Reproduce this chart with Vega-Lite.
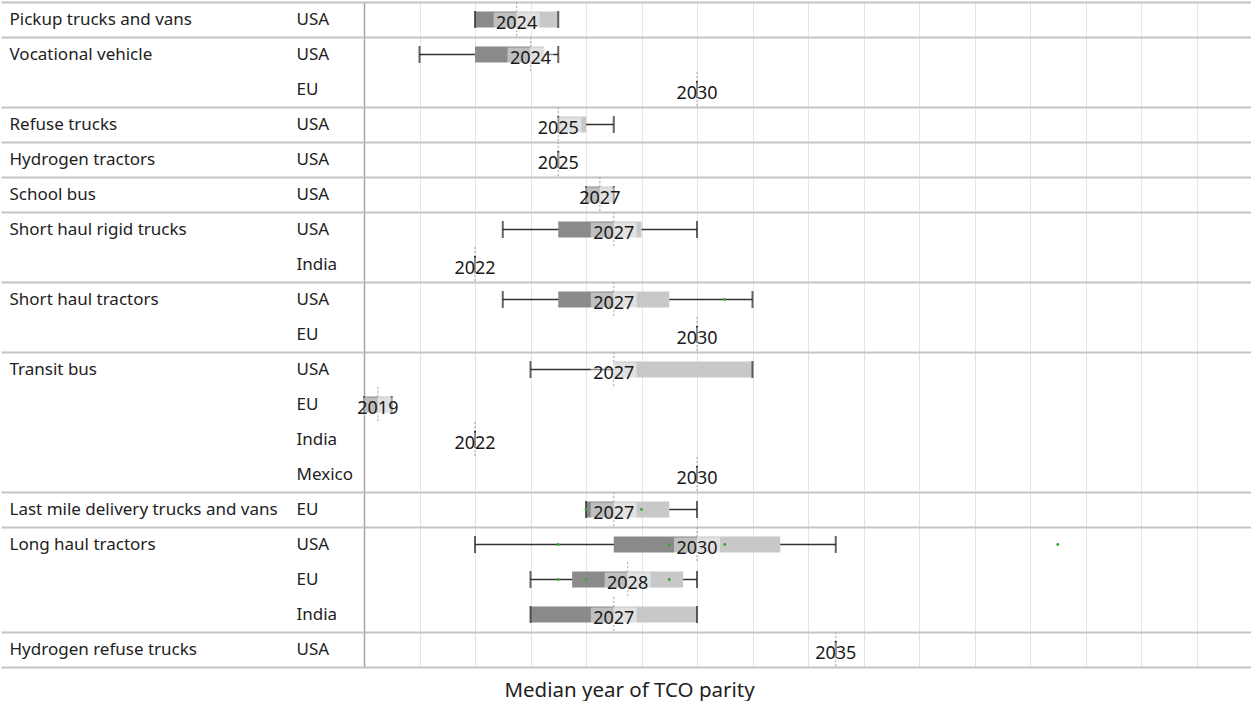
{
  "$schema": "https://vega.github.io/schema/vega-lite/v6.json",
  "width": 888,
  "height": 665,
  "padding": {"left": 0, "top": 1, "right": 0, "bottom": 0},
  "config": {
    "font": "Noto Sans",
    "view": {"stroke": null},
    "axisX": {"tickCount": 16, "labels": false, "ticks": false, "domain": false, "grid": true, "gridColor": "#e4e4e4", "gridWidth": 1,
      "titleFontSize": 20.5, "titleFontWeight": "normal", "titleColor": "#222222", "titleX": 265, "titleY": 29, "titleBaseline": "alphabetic", "titleAlign": "center"}
  },
  "datasets": {
    "rows": [
      {"key": "Pickup trucks and vans|USA", "min": 2022, "q1": 2022, "median": 2023.5, "q3": 2025, "max": 2025, "label": "2024"},
      {"key": "Vocational vehicle|USA", "min": 2020, "q1": 2022, "median": 2024, "q3": 2024.5, "max": 2025, "label": "2024"},
      {"key": "Vocational vehicle|EU", "min": 2030, "q1": 2030, "median": 2030, "q3": 2030, "max": 2030, "label": "2030"},
      {"key": "Refuse trucks|USA", "min": 2025, "q1": 2025, "median": 2025, "q3": 2026, "max": 2027, "label": "2025"},
      {"key": "Hydrogen tractors|USA", "min": 2025, "q1": 2025, "median": 2025, "q3": 2025, "max": 2025, "label": "2025"},
      {"key": "School bus|USA", "min": 2026, "q1": 2026, "median": 2026.5, "q3": 2027, "max": 2027, "label": "2027"},
      {"key": "Short haul rigid trucks|USA", "min": 2023, "q1": 2025, "median": 2027, "q3": 2028, "max": 2030, "label": "2027"},
      {"key": "Short haul rigid trucks|India", "min": 2022, "q1": 2022, "median": 2022, "q3": 2022, "max": 2022, "label": "2022"},
      {"key": "Short haul tractors|USA", "min": 2023, "q1": 2025, "median": 2027, "q3": 2029, "max": 2032, "label": "2027"},
      {"key": "Short haul tractors|EU", "min": 2030, "q1": 2030, "median": 2030, "q3": 2030, "max": 2030, "label": "2030"},
      {"key": "Transit bus|USA", "min": 2024, "q1": 2027, "median": 2027, "q3": 2032, "max": 2032, "label": "2027"},
      {"key": "Transit bus|EU", "min": 2018, "q1": 2018, "median": 2018.5, "q3": 2019, "max": 2019, "label": "2019"},
      {"key": "Transit bus|India", "min": 2022, "q1": 2022, "median": 2022, "q3": 2022, "max": 2022, "label": "2022"},
      {"key": "Transit bus|Mexico", "min": 2030, "q1": 2030, "median": 2030, "q3": 2030, "max": 2030, "label": "2030"},
      {"key": "Last mile delivery trucks and vans|EU", "min": 2026, "q1": 2026, "median": 2027, "q3": 2029, "max": 2030, "label": "2027"},
      {"key": "Long haul tractors|USA", "min": 2022, "q1": 2027, "median": 2030, "q3": 2033, "max": 2035, "label": "2030"},
      {"key": "Long haul tractors|EU", "min": 2024, "q1": 2025.5, "median": 2027.5, "q3": 2029.5, "max": 2030, "label": "2028"},
      {"key": "Long haul tractors|India", "min": 2024, "q1": 2024, "median": 2027, "q3": 2030, "max": 2030, "label": "2027"},
      {"key": "Hydrogen refuse trucks|USA", "min": 2035, "q1": 2035, "median": 2035, "q3": 2035, "max": 2035, "label": "2035"}
    ],
    "dots": [
      {"key": "Short haul tractors|USA", "year": 2031},
      {"key": "Last mile delivery trucks and vans|EU", "year": 2026},
      {"key": "Last mile delivery trucks and vans|EU", "year": 2028},
      {"key": "Long haul tractors|USA", "year": 2025},
      {"key": "Long haul tractors|USA", "year": 2029},
      {"key": "Long haul tractors|USA", "year": 2031},
      {"key": "Long haul tractors|USA", "year": 2043},
      {"key": "Long haul tractors|EU", "year": 2025},
      {"key": "Long haul tractors|EU", "year": 2026},
      {"key": "Long haul tractors|EU", "year": 2029}
    ]
  },
  "data": {"name": "rows"},
  "resolve": {"axis": {"y": "independent"}},
  "encoding": {
    "y": {
      "field": "key", "type": "nominal",
      "scale": {"type": "band", "paddingInner": 0, "paddingOuter": 0, "domain": ["Pickup trucks and vans|USA", "Vocational vehicle|USA", "Vocational vehicle|EU", "Refuse trucks|USA", "Hydrogen tractors|USA", "School bus|USA", "Short haul rigid trucks|USA", "Short haul rigid trucks|India", "Short haul tractors|USA", "Short haul tractors|EU", "Transit bus|USA", "Transit bus|EU", "Transit bus|India", "Transit bus|Mexico", "Last mile delivery trucks and vans|EU", "Long haul tractors|USA", "Long haul tractors|EU", "Long haul tractors|India", "Hydrogen refuse trucks|USA"]},
      "axis": null
    }
  },
  "layer": [
    {
      "mark": {"type": "tick", "orient": "vertical", "size": 35, "thickness": 0.1, "filled": false, "color": "#a9a9a9", "strokeDash": [2, 2], "strokeWidth": 1},
      "encoding": {
        "x": {"field": "median", "type": "quantitative", "scale": {"domain": [2018, 2050], "nice": false, "zero": false}, "title": "Median year of TCO parity"},
        "y": {
          "field": "key", "type": "nominal",
          "scale": {"type": "band", "paddingInner": 0, "paddingOuter": 0, "domain": ["Pickup trucks and vans|USA", "Vocational vehicle|USA", "Vocational vehicle|EU", "Refuse trucks|USA", "Hydrogen tractors|USA", "School bus|USA", "Short haul rigid trucks|USA", "Short haul rigid trucks|India", "Short haul tractors|USA", "Short haul tractors|EU", "Transit bus|USA", "Transit bus|EU", "Transit bus|India", "Transit bus|Mexico", "Last mile delivery trucks and vans|EU", "Long haul tractors|USA", "Long haul tractors|EU", "Long haul tractors|India", "Hydrogen refuse trucks|USA"]},
          "axis": {
            "orient": "left",
            "values": ["Pickup trucks and vans|USA", "Vocational vehicle|USA", "Refuse trucks|USA", "Hydrogen tractors|USA", "School bus|USA", "Short haul rigid trucks|USA", "Short haul tractors|USA", "Transit bus|USA", "Last mile delivery trucks and vans|EU", "Long haul tractors|USA", "Hydrogen refuse trucks|USA"],
            "labelExpr": "split(datum.value, '|')[0]",
            "labelAlign": "left", "labelBaseline": "middle", "labelPadding": 355, "labelFontSize": 17, "labelColor": "#222222", "labelLimit": 400,
            "ticks": false, "grid": false, "domain": false, "title": null
          }
        }
      }
    },
    {
      "mark": {"type": "rule", "color": "#333333", "strokeWidth": 1.3},
      "encoding": {
        "x": {"field": "min", "type": "quantitative", "scale": {"domain": [2018, 2050], "nice": false, "zero": false}, "title": "Median year of TCO parity"},
        "x2": {"field": "max"},
        "y": {
          "field": "key", "type": "nominal",
          "scale": {"type": "band", "paddingInner": 0, "paddingOuter": 0, "domain": ["Pickup trucks and vans|USA", "Vocational vehicle|USA", "Vocational vehicle|EU", "Refuse trucks|USA", "Hydrogen tractors|USA", "School bus|USA", "Short haul rigid trucks|USA", "Short haul rigid trucks|India", "Short haul tractors|USA", "Short haul tractors|EU", "Transit bus|USA", "Transit bus|EU", "Transit bus|India", "Transit bus|Mexico", "Last mile delivery trucks and vans|EU", "Long haul tractors|USA", "Long haul tractors|EU", "Long haul tractors|India", "Hydrogen refuse trucks|USA"]},
          "axis": {
            "orient": "left",
            "labelExpr": "split(datum.value, '|')[1]",
            "labelAlign": "left", "labelBaseline": "middle", "labelPadding": 68, "labelFontSize": 17, "labelColor": "#222222",
            "ticks": false, "grid": false,
            "domain": true, "domainColor": "#a6a6a6", "domainWidth": 1.5, "title": null
          }
        }
      }
    },
    {
      "mark": {"type": "bar", "size": 16, "color": "#8a8a8a"},
      "encoding": {
        "x": {"field": "q1", "type": "quantitative", "scale": {"domain": [2018, 2050], "nice": false, "zero": false}, "title": "Median year of TCO parity"},
        "x2": {"field": "median"},
        "y": {
          "field": "key", "type": "nominal",
          "scale": {"type": "band", "paddingInner": 0, "paddingOuter": 0, "domain": ["Pickup trucks and vans|USA", "Vocational vehicle|USA", "Vocational vehicle|EU", "Refuse trucks|USA", "Hydrogen tractors|USA", "School bus|USA", "Short haul rigid trucks|USA", "Short haul rigid trucks|India", "Short haul tractors|USA", "Short haul tractors|EU", "Transit bus|USA", "Transit bus|EU", "Transit bus|India", "Transit bus|Mexico", "Last mile delivery trucks and vans|EU", "Long haul tractors|USA", "Long haul tractors|EU", "Long haul tractors|India", "Hydrogen refuse trucks|USA"]},
          "axis": {
            "orient": "left",
            "values": ["Pickup trucks and vans|USA", "Vocational vehicle|EU", "Refuse trucks|USA", "Hydrogen tractors|USA", "School bus|USA", "Short haul rigid trucks|India", "Short haul tractors|EU", "Transit bus|Mexico", "Last mile delivery trucks and vans|EU", "Long haul tractors|India", "Hydrogen refuse trucks|USA"],
            "labels": false,
            "ticks": true, "tickBand": "extent", "tickSize": 363, "tickColor": "#c4c4c4", "tickWidth": 2,
            "grid": true, "gridColor": "#c4c4c4", "gridWidth": 2,
            "domain": false, "title": null
          }
        }
      }
    },
    {
      "mark": {"type": "bar", "size": 16, "color": "#c8c8c8"},
      "encoding": {
        "x": {"field": "median", "type": "quantitative", "scale": {"domain": [2018, 2050], "nice": false, "zero": false}, "title": "Median year of TCO parity"},
        "x2": {"field": "q3"}
      }
    },
    {
      "mark": {"type": "tick", "orient": "vertical", "size": 17, "thickness": 2, "color": "#222222"},
      "encoding": {
        "x": {"field": "min", "type": "quantitative", "scale": {"domain": [2018, 2050], "nice": false, "zero": false}, "title": "Median year of TCO parity"}
      }
    },
    {
      "mark": {"type": "tick", "orient": "vertical", "size": 17, "thickness": 2, "color": "#222222"},
      "encoding": {
        "x": {"field": "max", "type": "quantitative", "scale": {"domain": [2018, 2050], "nice": false, "zero": false}, "title": "Median year of TCO parity"}
      }
    },
    {
      "data": {"name": "dots"},
      "mark": {"type": "point", "filled": true, "size": 8, "color": "#2eaa2e", "opacity": 1},
      "encoding": {
        "x": {"field": "year", "type": "quantitative", "scale": {"domain": [2018, 2050], "nice": false, "zero": false}, "title": "Median year of TCO parity"}
      }
    },
    {
      "mark": {"type": "tick", "orient": "vertical", "size": 18, "thickness": 46, "color": "#ffffff", "opacity": 0.45, "yOffset": 2},
      "encoding": {
        "x": {"field": "median", "type": "quantitative", "scale": {"domain": [2018, 2050], "nice": false, "zero": false}, "title": "Median year of TCO parity"}
      }
    },
    {
      "mark": {"type": "text", "fontSize": 18, "color": "#1a1a1a", "baseline": "middle", "align": "center", "yOffset": 4},
      "encoding": {
        "x": {"field": "median", "type": "quantitative", "scale": {"domain": [2018, 2050], "nice": false, "zero": false}, "title": "Median year of TCO parity"},
        "text": {"field": "label", "type": "nominal"}
      }
    }
  ]
}
